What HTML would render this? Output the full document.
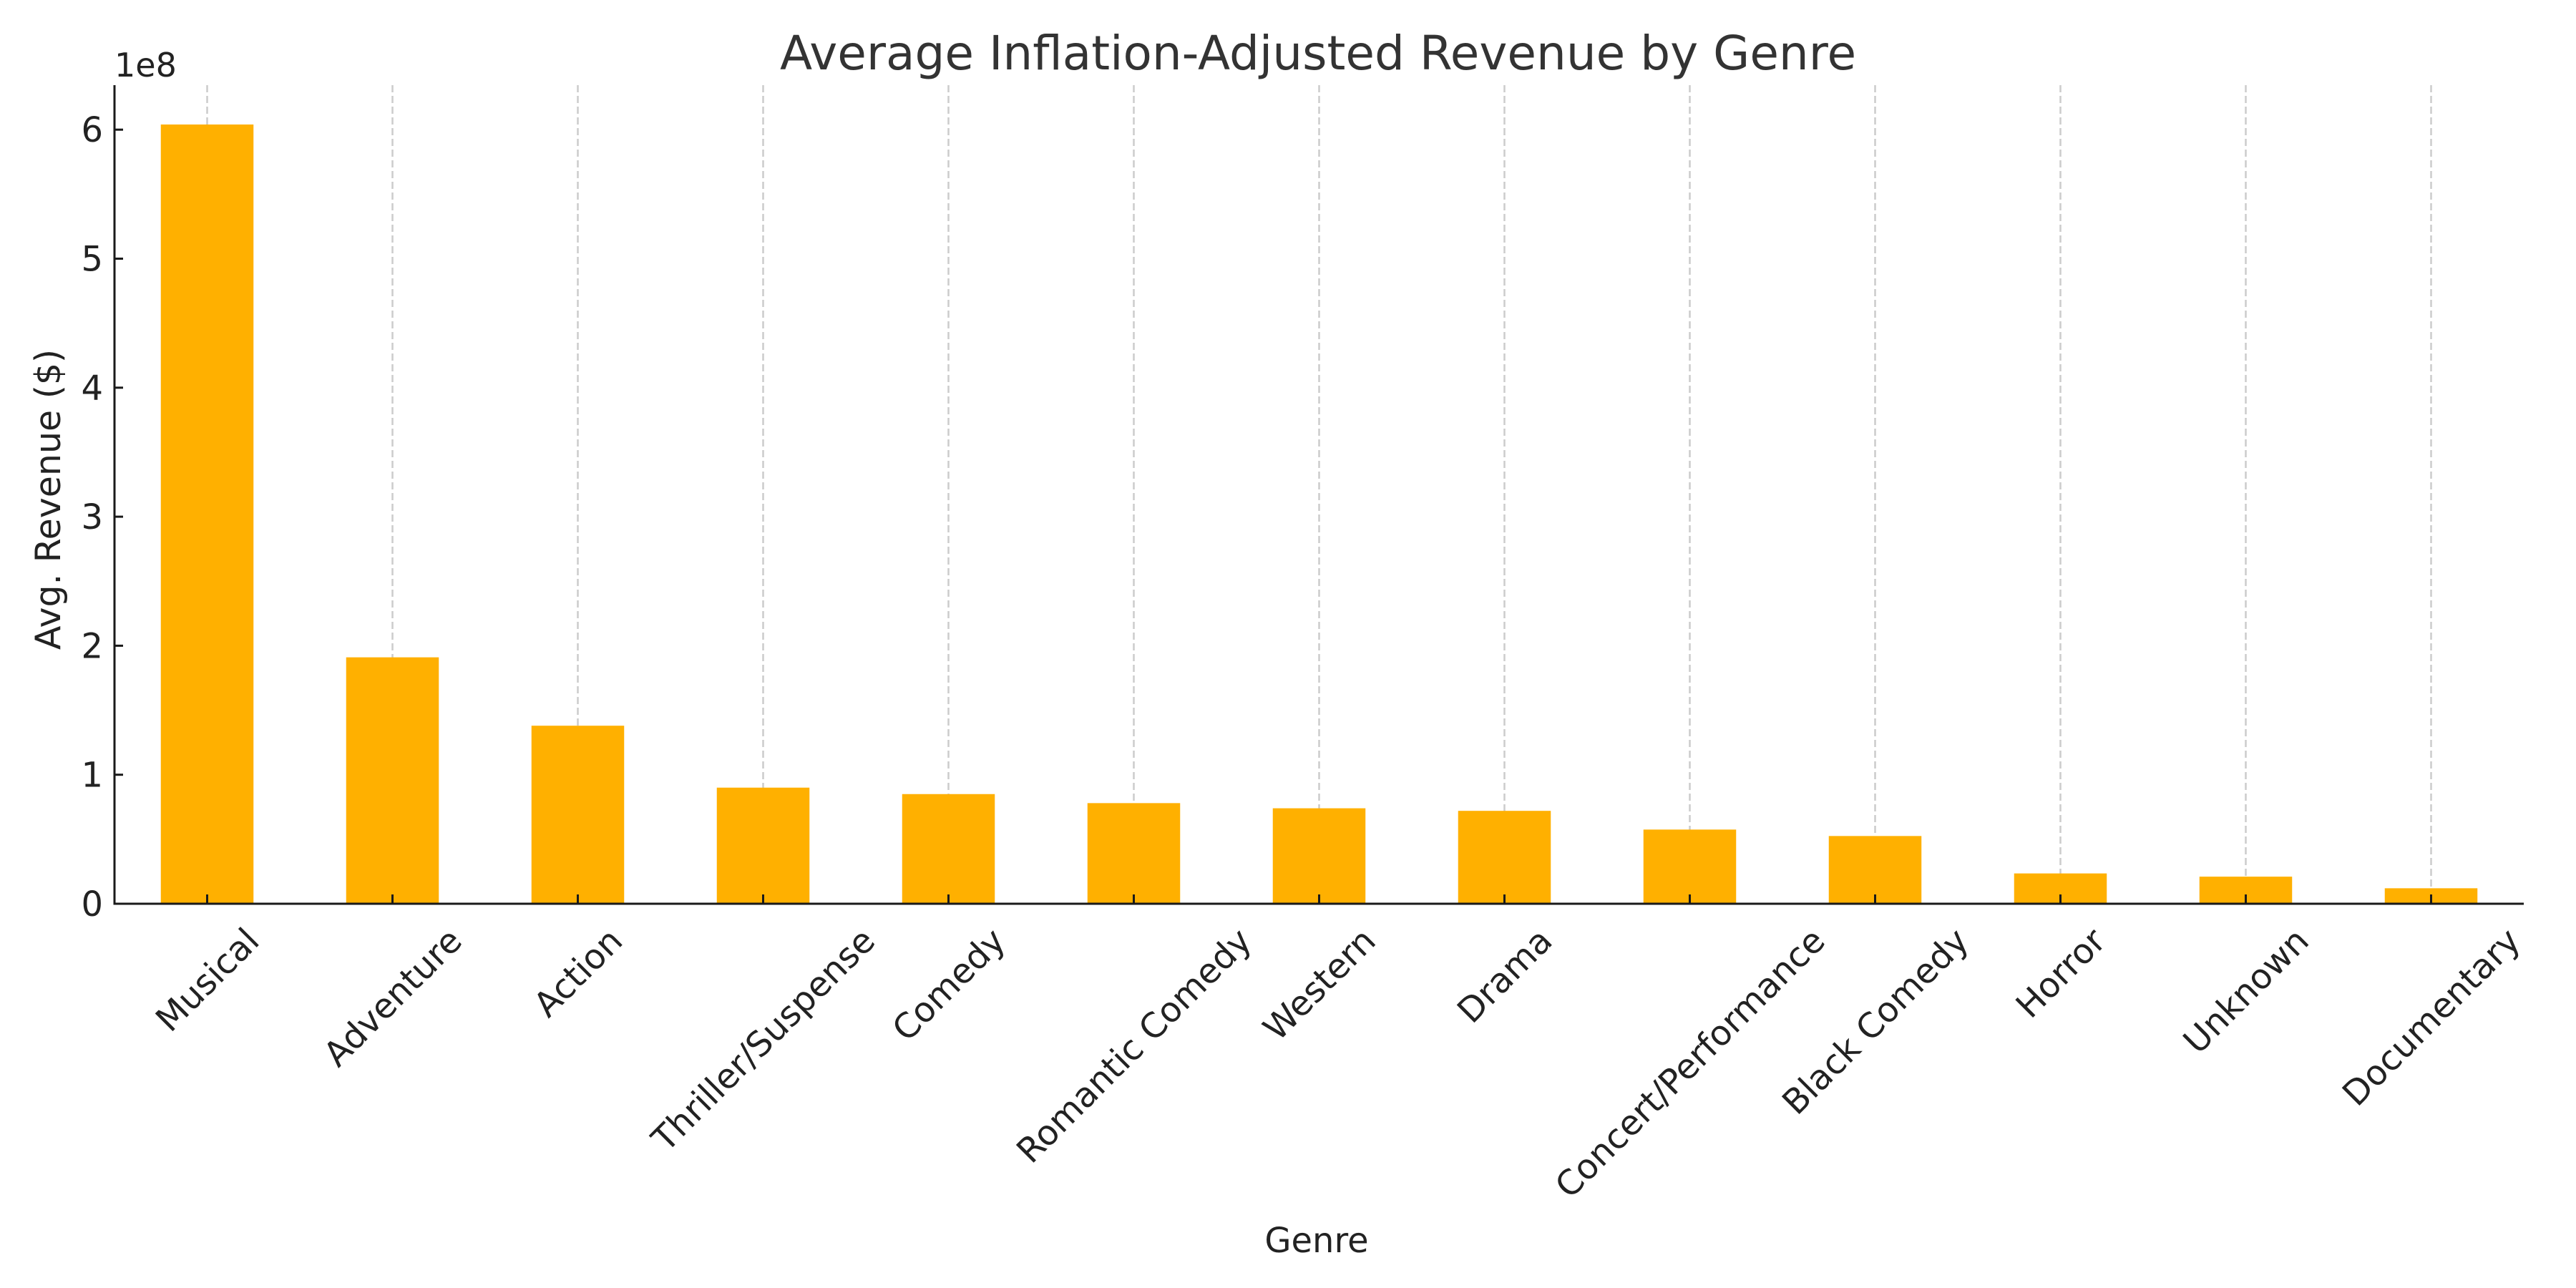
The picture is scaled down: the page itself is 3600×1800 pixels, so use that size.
<!DOCTYPE html>
<html><head><meta charset="utf-8"><style>
html,body{margin:0;padding:0;background:#fff;}
svg{display:block;font-family:"DejaVu Sans","Liberation Sans",sans-serif;}
</style></head><body>
<svg id="chart" width="3600" height="1800" viewBox="0 0 3600 1800">
<rect width="3600" height="1800" fill="#fff"/>
<text x="1842" y="97" font-size="66" fill="#333" text-anchor="middle">Average Inflation-Adjusted Revenue by Genre</text>
<text x="160" y="107" font-size="46" fill="#222">1e8</text>
<text transform="translate(84,698) rotate(-90)" font-size="49" fill="#222" text-anchor="middle">Avg. Revenue ($)</text>
<text x="1840" y="1750" font-size="48" fill="#222" text-anchor="middle">Genre</text>
<g id="grid"></g><g id="bars"></g><g id="axes"></g><g id="labels"></g>
</svg>
<script>
const categories = ["Musical","Adventure","Action","Thriller/Suspense","Comedy","Romantic Comedy","Western","Drama","Concert/Performance","Black Comedy","Horror","Unknown","Documentary"];
const revenue = [6.04e8,1.91e8,1.38e8,0.90e8,0.85e8,0.78e8,0.74e8,0.72e8,0.575e8,0.525e8,0.235e8,0.21e8,0.12e8];
const yTicks = [0,1e8,2e8,3e8,4e8,5e8,6e8];
const yTickLabels = ["0","1","2","3","4","5","6"];

const NS="http://www.w3.org/2000/svg";
const L=160,R=3527,T=119,B=1263;
const yMax=6.345e8;
const n=categories.length;
const step=(R-L)/n;
function xScale(i){return L+step*(i+0.5);}
function yScale(v){return B-(v/yMax)*(B-T);}
function mk(tag,attrs,parent){const e=document.createElementNS(NS,tag);for(const k in attrs)e.setAttribute(k,attrs[k]);parent.appendChild(e);return e;}
const grid=document.getElementById('grid'),bars=document.getElementById('bars'),axes=document.getElementById('axes'),labels=document.getElementById('labels');
categories.forEach((c,i)=>{
  const x=xScale(i);
  const g=mk('line',{x1:x,x2:x,y1:T,y2:B,stroke:'#cccccc','stroke-width':2.5,'stroke-dasharray':'10,5'},grid);
  
  
  const y=yScale(revenue[i]);
  const b=mk('rect',{x:x-step/4,y:y,width:step/2,height:B-y,fill:'#FFB000'},bars);
  
  
  const t=mk('line',{x1:x,x2:x,y1:B,y2:B-13,stroke:'#1a1a1a','stroke-width':3},axes);
  
  
  const tx=mk('text',{'font-size':48,fill:'#222','text-anchor':'middle'},labels);
  tx.textContent=c;
  
  
  const w=tx.getComputedTextLength();
  const h=48*0.75;
  const cy=B+30+(w+h)*0.7071/2;
  tx.setAttribute('transform','translate('+x+','+cy+') rotate(-45)');
  tx.setAttribute('dy','17');
});
yTicks.forEach((v,i)=>{
  const y=yScale(v);
  const t=mk('line',{x1:L,x2:L+12,y1:y,y2:y,stroke:'#1a1a1a','stroke-width':3},axes);
  
  
  const tx=mk('text',{x:L-16,y:y+17,'font-size':48,fill:'#222','text-anchor':'end'},labels);
  tx.textContent=yTickLabels[i];
  
  
});
const ya=mk('line',{x1:L,x2:L,y1:T,y2:B+1.5,stroke:'#1a1a1a','stroke-width':3},axes);


const xa=mk('line',{x1:L-1.5,x2:R,y1:B,y2:B,stroke:'#1a1a1a','stroke-width':3},axes);


</script>
</body></html>
